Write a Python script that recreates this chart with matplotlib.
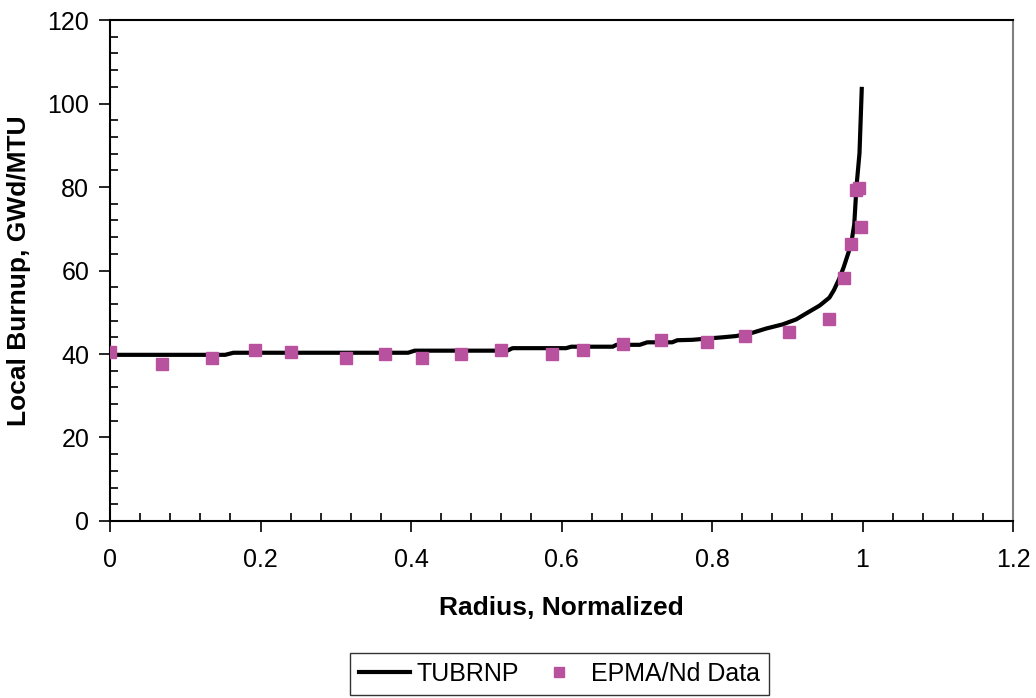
import matplotlib.pyplot as plt
from matplotlib.ticker import MultipleLocator

plt.rcParams['font.family'] = ['Liberation Sans', 'DejaVu Sans']

# TUBRNP calculated profile
radius_calc = [0.0, 0.153, 0.164, 0.396, 0.405, 0.528, 0.535, 0.606, 0.613,
               0.668, 0.673, 0.704, 0.714, 0.747, 0.754, 0.774, 0.814, 0.832,
               0.854, 0.872, 0.894, 0.912, 0.925, 0.943, 0.956, 0.962, 0.969,
               0.975, 0.981, 0.985, 0.989, 0.992, 0.996, 0.999]
burnup_calc = [39.8, 39.8, 40.3, 40.3, 40.8, 40.8, 41.4, 41.4, 41.75,
               41.75, 42.2, 42.2, 42.8, 42.8, 43.3, 43.4, 44.0, 44.3,
               45.1, 46.1, 47.1, 48.3, 49.7, 51.6, 53.5, 55.3, 58.0,
               60.8, 64.1, 66.5, 71.0, 80.1, 88.1, 103.5]

# EPMA/Nd measurements
radius_epma = [0.0, 0.069, 0.135, 0.193, 0.241, 0.313, 0.366, 0.414, 0.467,
               0.520, 0.587, 0.628, 0.682, 0.732, 0.793, 0.844, 0.902, 0.955,
               0.976, 0.985, 0.992, 0.996, 0.998]
burnup_epma = [40.4, 37.5, 39.0, 41.0, 40.4, 39.0, 40.0, 39.0, 40.0,
               41.0, 40.0, 41.0, 42.4, 43.4, 42.8, 44.3, 45.3, 48.5,
               58.1, 66.3, 79.2, 79.8, 70.5]

xtick_vals = [0, 0.2, 0.4, 0.6, 0.8, 1.0, 1.2]
xtick_text = ['0', '0.2', '0.4', '0.6', '0.8', '1', '1.2']

fig = plt.figure(figsize=(10.36, 6.98), dpi=100)
ax = fig.add_axes([0.1062, 0.2536, 0.8716, 0.7177])

ax.plot(radius_calc, burnup_calc, color='black', lw=3, label='TUBRNP', zorder=2)
ax.plot(radius_epma, burnup_epma, ls='none', marker='s', ms=9,
        color='#b8529f', label='EPMA/Nd Data', zorder=3)

ax.set_xlim(0, 1.2)
ax.set_ylim(0, 120)
ax.xaxis.set_minor_locator(MultipleLocator(0.04))
ax.yaxis.set_major_locator(MultipleLocator(20))
ax.yaxis.set_minor_locator(MultipleLocator(4))
ax.set_xticks(xtick_vals)
ax.set_xticklabels(xtick_text)
ax.tick_params(which='major', direction='out', length=8, width=1.2, labelsize=18)
ax.tick_params(axis='x', which='major', pad=11.5)
ax.tick_params(axis='y', which='major', pad=7)
ax.tick_params(which='minor', direction='in', length=6, width=1.2)

for side in ['left', 'bottom', 'top']:
    ax.spines[side].set_linewidth(1.5)
ax.spines['right'].set_color('#808080')
ax.spines['right'].set_linewidth(1.5)

ax.set_xlabel('Radius, Normalized', fontsize=19, fontweight='bold', labelpad=17)
ax.set_ylabel('Local Burnup, GWd/MTU', fontsize=19, fontweight='bold', labelpad=12)

leg = fig.legend(loc='upper center', bbox_to_anchor=(0.540, 0.0645), ncol=2,
                 fontsize=18, frameon=True, fancybox=False, edgecolor='black',
                 handlelength=2.04, handletextpad=0.28, columnspacing=0.56,
                 borderpad=0.36, borderaxespad=0, markerscale=0.8)
leg.get_frame().set_linewidth(1.0)

fig.savefig('out.png', dpi=100)
